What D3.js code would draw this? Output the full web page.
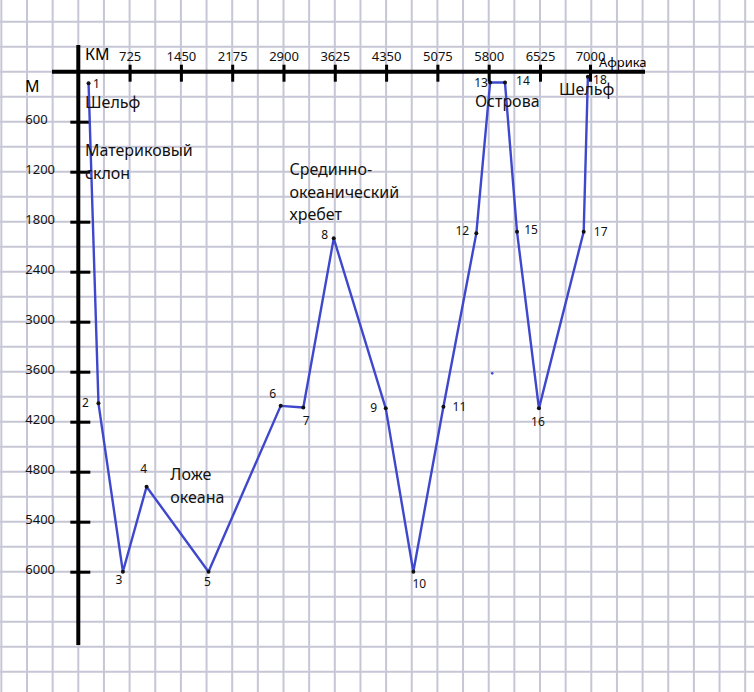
<!DOCTYPE html>
<html>
<head>
<meta charset="utf-8">
<script src="https://cdn.jsdelivr.net/npm/d3@7"></script>
<style>
  html, body { margin: 0; padding: 0; background: #fff; }
  svg { display: block; font-family: "Noto Sans", "DejaVu Sans", sans-serif; }
</style>
</head>
<body>
<svg id="chart" width="754" height="692"></svg>
<script>
// профиль дна: расстояние (км) и глубина (м) по точкам 1..18
const pointIds = [1, 2, 3, 4, 5, 6, 7, 8, 9, 10, 11, 12, 13, 14, 15, 16, 17, 18];
const distanceKm = [145, 285, 630, 965, 1840, 2860, 3180, 3610, 4345, 4735, 5160, 5625, 5820, 6030, 6200, 6510, 6940, 6980];
const depthM = [140, 3980, 6000, 4980, 6000, 4010, 4030, 2000, 4040, 6000, 4020, 1940, 130, 130, 1920, 4040, 1920, 60];

// подписи осей
const kmTicks = [725, 1450, 2175, 2900, 3625, 4350, 5075, 5800, 6525, 7000];
const mTicks = [600, 1200, 1800, 2400, 3000, 3600, 4200, 4800, 5400, 6000];

// случайная точка на рисунке
const strayKm = [5850];
const strayM = [3620];

// где стоят номера точек относительно самих точек (px)
const labelDx = [8, -13, -4, -3, -1, -8, 3, -9, -12, 6, 16, -14, -9, 18, 14, -1, 17, 12];
const labelDy = [0, -1, 8, -18, 10, -12, 13, -4, -1, 12, 0, -3, 0, -2, -2, 13, 0, 3];

// надписи: строки и точка привязки (км, м)
const notes = [
  {lines: ["Шельф"], km: 95, m: 430},
  {lines: ["Материковый", "склон"], km: 95, m: 1015},
  {lines: ["Срединно-", "океанический", "хребет"], km: 2985, m: 1240},
  {lines: ["Ложе", "океана"], km: 1300, m: 4900},
  {lines: ["Острова"], km: 5605, m: 425},
  {lines: ["Шельф"], km: 6705, m: 280}
];

const svg = d3.select("#chart");
const W = 754, H = 692;

// клетка тетради
const cellX = 25.65, cellY = 25;
const grid = svg.append("g").attr("stroke", "#c6c6d6").attr("stroke-width", 2);
grid.selectAll("line.v")
  .data(d3.range(1.35, W, cellX))
  .join("line")
  .attr("x1", d => d).attr("x2", d => d)
  .attr("y1", 0).attr("y2", H);
grid.selectAll("line.h")
  .data(d3.range(21.7 - cellY, H, cellY))
  .join("line")
  .attr("x1", 0).attr("x2", W)
  .attr("y1", d => d).attr("y2", d => d);

// шкалы
const x = d3.scaleLinear()
  .domain([0, 6525, 7000])
  .range([78.3, 540, 590]);
const y = d3.scaleLinear()
  .domain([0, 6000])
  .range([71.7, 571.7]);

// ось км (сверху)
const xAxis = svg.append("g")
  .attr("transform", `translate(0,${y(0)})`)
  .call(d3.axisTop(x).tickValues(kmTicks).tickFormat(d3.format("d")).tickSizeOuter(0));
xAxis.select(".domain").remove();
xAxis.selectAll(".tick line")
  .attr("y1", -7).attr("y2", 10)
  .attr("stroke", "#000").attr("stroke-width", 3);
xAxis.selectAll(".tick text")
  .attr("y", -11).attr("dy", 0)
  .attr("font-size", 13).attr("fill", "#111")
  .attr("font-family", "Noto Sans, sans-serif");

// ось м (слева)
const yAxis = svg.append("g")
  .attr("transform", `translate(${x(0)},0)`)
  .call(d3.axisLeft(y).tickValues(mTicks).tickFormat(d3.format("d")).tickSizeOuter(0));
yAxis.select(".domain").remove();
yAxis.selectAll(".tick line")
  .attr("x1", -8).attr("x2", 12)
  .attr("stroke", "#000").attr("stroke-width", 3);
yAxis.selectAll(".tick text")
  .attr("x", -53).attr("dy", "0.1em")
  .attr("text-anchor", "start")
  .attr("font-size", 13).attr("fill", "#111")
  .attr("font-family", "Noto Sans, sans-serif");

// сами линии осей
svg.append("line")
  .attr("x1", 52).attr("x2", 645)
  .attr("y1", y(0)).attr("y2", y(0))
  .attr("stroke", "#000").attr("stroke-width", 4);
svg.append("line")
  .attr("x1", x(0)).attr("x2", x(0))
  .attr("y1", 45).attr("y2", 645)
  .attr("stroke", "#000").attr("stroke-width", 4);

svg.append("text").attr("x", 85).attr("y", 60)
  .attr("font-size", 16).text("КМ");
svg.append("text").attr("x", 25).attr("y", 92)
  .attr("font-size", 16).text("М");
svg.append("text").attr("x", 599).attr("y", 67)
  .attr("font-size", 13).text("Африка");

// профиль
const pts = pointIds.map((id, i) => ({id, km: distanceKm[i], m: depthM[i], dx: labelDx[i], dy: labelDy[i]}));

const line = d3.line().x(d => x(d.km)).y(d => y(d.m));
svg.append("path")
  .datum(pts)
  .attr("d", line)
  .attr("fill", "none")
  .attr("stroke", "#3f48cc")
  .attr("stroke-width", 2.4)
  .attr("stroke-linejoin", "round");

svg.selectAll("circle.pt")
  .data(pts)
  .join("circle")
  .attr("class", "pt")
  .attr("cx", d => x(d.km))
  .attr("cy", d => y(d.m))
  .attr("r", 2)
  .attr("fill", "#111");

svg.selectAll("circle.stray")
  .data(strayKm.map((k, i) => ({km: k, m: strayM[i]})))
  .join("circle")
  .attr("class", "stray")
  .attr("cx", d => x(d.km))
  .attr("cy", d => y(d.m))
  .attr("r", 1.3)
  .attr("fill", "#3f48cc");

svg.selectAll("text.num")
  .data(pts)
  .join("text")
  .attr("class", "num")
  .attr("x", d => x(d.km) + d.dx)
  .attr("y", d => y(d.m) + d.dy)
  .attr("dy", "0.35em")
  .attr("text-anchor", "middle")
  .attr("font-size", 12)
  .attr("fill", "#111")
  .text(d => d.id);

// подписи форм рельефа
const noteG = svg.selectAll("text.note")
  .data(notes)
  .join("text")
  .attr("class", "note")
  .attr("x", d => x(d.km))
  .attr("y", d => y(d.m))
  .attr("font-size", 16)
  .attr("fill", "#111");
noteG.selectAll("tspan")
  .data(d => d.lines.map((t, i) => ({t, i, x: x(d.km)})))
  .join("tspan")
  .attr("x", d => d.x)
  .attr("dy", d => d.i === 0 ? 0 : 22.5)
  .text(d => d.t);
</script>
</body>
</html>
